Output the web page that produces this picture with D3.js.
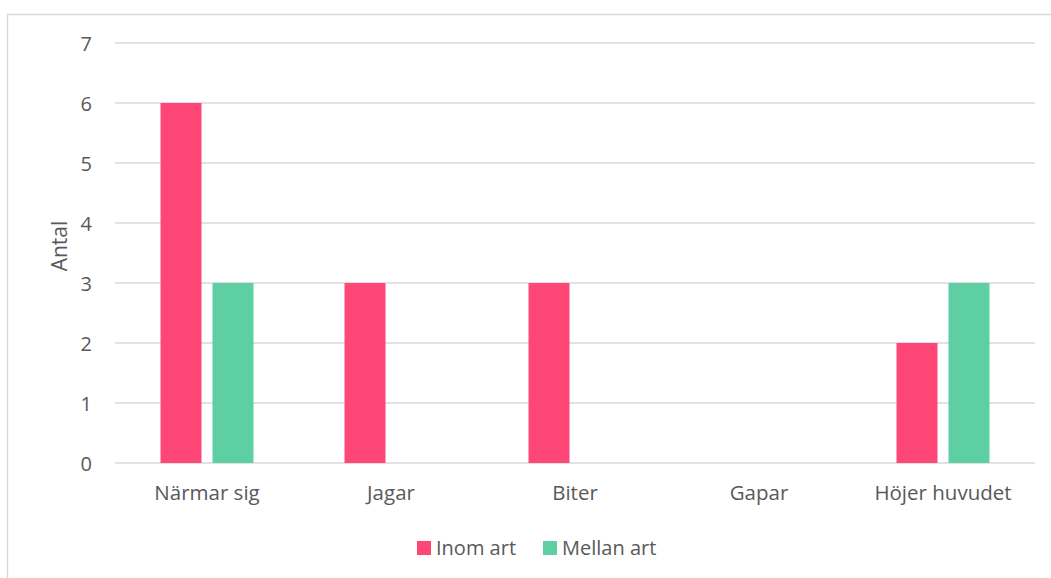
<!DOCTYPE html>
<html>
<head>
<meta charset="utf-8">
<script src="https://cdn.jsdelivr.net/npm/d3@7"></script>
<style>
  html, body { margin: 0; padding: 0; background: #fff; }
  svg { display: block; }
  text { font-family: "Open Sans", "Liberation Sans", sans-serif; fill: #595959; }
</style>
</head>
<body>
<svg id="chart" width="1051" height="578"></svg>
<script>
// Behaviour categories and counts per series
const categories = ["Närmar sig", "Jagar", "Biter", "Gapar", "Höjer huvudet"];
const seriesNames = ["Inom art", "Mellan art"];
const inomArt = [6, 3, 3, 0, 2];
const mellanArt = [3, 0, 0, 0, 3];
const yTicks = [0, 1, 2, 3, 4, 5, 6, 7];
const colors = ["#FF4777", "#5ECFA3"];

const svg = d3.select("#chart");
const W = 1051, H = 578;
const margin = { left: 115, right: 16, top: 43, bottom: 115 };
const plotW = W - margin.left - margin.right; // 920
const plotH = H - margin.top - margin.bottom; // 420

// outer frame
svg.append("rect")
  .attr("x", 7.5).attr("y", 14.5)
  .attr("width", W + 10).attr("height", H + 10)
  .attr("fill", "none").attr("stroke", "#D9D9D9").attr("stroke-width", 1.5);

const g = svg.append("g").attr("transform", `translate(${margin.left},${margin.top})`);

const x = d3.scaleBand().domain(categories).range([0, plotW]).paddingInner(0).paddingOuter(0);
const xSub = d3.scaleOrdinal().domain(seriesNames).range([-46.5, 5.5]);
const barW = 41;
const y = d3.scaleLinear().domain([0, 7]).range([plotH, 0]);

// gridlines
g.append("g").selectAll("line").data(yTicks).join("line")
  .attr("x1", 0).attr("x2", plotW)
  .attr("y1", d => y(d)).attr("y2", d => y(d))
  .attr("stroke", "#D9D9D9").attr("stroke-width", 1.5);

// y axis labels
const yAxis = d3.axisLeft(y).tickValues(yTicks).tickSize(0).tickPadding(23).tickFormat(d3.format("d"));
const ya = g.append("g").call(yAxis);
ya.select(".domain").remove();
ya.selectAll("text").style("font-size", "20px").attr("fill", "#595959").attr("dy", "0.35em")
  .style("font-family", '"Open Sans", sans-serif');

// x axis labels
const xAxis = d3.axisBottom(x).tickSize(0).tickPadding(22);
const xa = g.append("g").attr("transform", `translate(0,${plotH})`).call(xAxis);
xa.select(".domain").remove();
xa.selectAll("text").style("font-size", "20.5px").attr("fill", "#595959")
  .style("font-family", '"Open Sans", sans-serif');

// bars
const data = categories.map((c, i) => ({ cat: c, values: [inomArt[i], mellanArt[i]] }));
const groups = g.append("g").selectAll("g").data(data).join("g")
  .attr("transform", d => `translate(${x(d.cat) + x.bandwidth() / 2},0)`);
groups.selectAll("rect")
  .data(d => d.values.map((v, k) => ({ key: seriesNames[k], v, k })).filter(e => e.v > 0))
  .join("rect")
  .attr("x", d => xSub(d.key))
  .attr("width", barW)
  .attr("y", d => y(d.v))
  .attr("height", d => y(0) - y(d.v))
  .attr("fill", d => colors[d.k]);

// y axis title
svg.append("text")
  .attr("transform", "translate(67,246) rotate(-90)")
  .attr("text-anchor", "middle")
  .style("font-size", "21px")
  .text("Antal");

// legend
const legendItems = [
  { name: seriesNames[0], color: colors[0], x: 417 },
  { name: seriesNames[1], color: colors[1], x: 543 }
];
const lg = svg.append("g");
const li = lg.selectAll("g").data(legendItems).join("g")
  .attr("transform", d => `translate(${d.x},541)`);
li.append("rect").attr("width", 14).attr("height", 14).attr("fill", d => d.color);
li.append("text").attr("x", 19).attr("y", 7).attr("dy", "0.35em")
  .style("font-size", "20px").text(d => d.name);
</script>
</body>
</html>
